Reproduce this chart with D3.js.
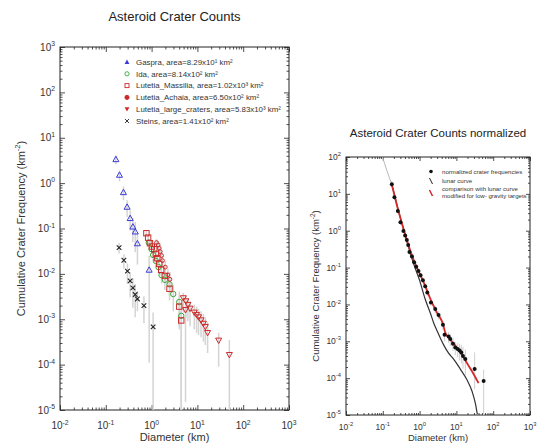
<!DOCTYPE html>
<html>
<head>
<meta charset="utf-8">
<script src="https://cdnjs.cloudflare.com/ajax/libs/d3/7.8.5/d3.min.js"></script>
<style>
  body { margin: 0; background: #fff; }
  svg { font-family: "Liberation Sans", Arial, sans-serif; }
</style>
</head>
<body>
<div id="chart"></div>
<script>
// ---- data: [diameter km, cumulative freq, err low, err high] ----
const gaspra = [
  [0.166, 3.36, 2.6, 4.1], [0.199, 1.52, 1.1, 1.9], [0.243, 0.63, 0.42, 0.84],
  [0.292, 0.30, 0.18, 0.42], [0.34, 0.169, 0.09, 0.25], [0.39, 0.110, 0.05, 0.17],
  [0.44, 0.0855, 0.03, 0.14], [0.49, 0.047, 0.016, 0.08], [0.885, 0.0123, 1.1e-4, 0.025]
];
const ida = [
  [0.87, 0.049, 0.041, 0.057], [1.0, 0.035, 0.028, 0.042], [1.08, 0.026, 0.020, 0.032],
  [1.24, 0.0193, 0.0145, 0.024], [1.42, 0.0141, 0.010, 0.018], [1.65, 0.0094, 0.0061, 0.0127],
  [1.95, 0.0074, 0.0044, 0.0104], [2.46, 0.0059, 0.0033, 0.0085], [2.97, 0.0036, 0.0015, 0.0057],
  [4.02, 0.0024, 0.0007, 0.0041], [4.44, 0.00119, 1e-6, 0.0024]
];
const massilia = [
  [0.77, 0.0787, 0.07, 0.088], [0.84, 0.063, 0.055, 0.071], [0.92, 0.0474, 0.041, 0.054],
  [1.01, 0.040, 0.034, 0.046], [1.14, 0.035, 0.029, 0.041], [1.24, 0.0276, 0.022, 0.033],
  [1.33, 0.0222, 0.018, 0.027], [1.47, 0.0166, 0.013, 0.021], [1.62, 0.0123, 0.009, 0.016],
  [1.95, 0.0090, 0.006, 0.012], [2.46, 0.0047, 0.0026, 0.0068], [4.02, 0.0019, 0.0006, 0.0032],
  [4.44, 0.00094, 1e-6, 0.0019]
];
const achaia = [
  [1.28, 0.049, 0.04, 0.058], [1.39, 0.0435, 0.035, 0.052], [1.47, 0.0368, 0.029, 0.045],
  [1.54, 0.031, 0.024, 0.038], [1.65, 0.0253, 0.019, 0.032], [1.73, 0.0196, 0.014, 0.025],
  [1.99, 0.0141, 0.0095, 0.019], [2.27, 0.0095, 0.0057, 0.013], [2.51, 0.0076, 0.0042, 0.011]
];
const largeCraters = [
  [4.92, 0.00292, 0.0014, 0.0038], [5.6, 0.0025, 0.0011, 0.0033], [5.5, 0.0016, 1.5e-5, 0.0024],
  [6.2, 0.00208, 0.0009, 0.0029], [6.9, 0.00172, 0.0007, 0.0025], [8.55, 0.00141, 0.0006, 0.0021],
  [9.6, 0.00125, 0.0005, 0.0019], [10.6, 0.00111, 0.00045, 0.0017], [12.0, 0.00095, 0.0004, 0.0015],
  [13.5, 0.0008, 0.00032, 0.0013], [14.9, 0.00068, 0.00027, 0.0011], [16.7, 0.0005, 0.00018, 0.00085],
  [29.1, 0.00034, 9e-5, 0.0005], [49.9, 0.000164, 1e-6, 0.00035]
];
const steins = [
  [0.195, 0.038, 0.028, 0.048], [0.248, 0.020, 0.013, 0.027], [0.297, 0.0115, 0.006, 0.017],
  [0.34, 0.0070, 0.003, 0.011], [0.39, 0.0049, 0.0018, 0.008], [0.438, 0.0035, 0.0011, 0.006],
  [0.49, 0.0028, 0.0015, 0.0042], [0.68, 0.0020, 0.00082, 0.0032], [1.08, 0.00068, 1e-6, 0.0014]
];
const legendLabels = [
  "Gaspra, area=8.29x10¹ km²", "Ida, area=8.14x10² km²", "Lutetia_Massilia, area=1.02x10³ km²",
  "Lutetia_Achaia, area=6.50x10² km²", "Lutetia_large_craters, area=5.83x10³ km²",
  "Steins, area=1.41x10² km²"
];

// normalized plot
const normDots = [
  [0.176, 18.2, 15, 22], [0.207, 8.1, 6.8, 9.5], [0.256, 3.44, 2.9, 4.0], [0.302, 1.7, 1.4, 2.0],
  [0.364, 0.99, 0.85, 1.13], [0.405, 0.74, 0.63, 0.85], [0.45, 0.56, 0.48, 0.64], [0.49, 0.41, 0.35, 0.47],
  [0.53, 0.266, 0.22, 0.31], [0.62, 0.199, 0.17, 0.23], [0.71, 0.14, 0.12, 0.16], [0.81, 0.106, 0.09, 0.122],
  [0.93, 0.081, 0.069, 0.093], [1.06, 0.062, 0.053, 0.071], [1.23, 0.045, 0.038, 0.052], [1.42, 0.031, 0.026, 0.036],
  [1.62, 0.021, 0.017, 0.025], [2.03, 0.0113, 0.009, 0.0136], [2.66, 0.0075, 0.0058, 0.0092],
  [3.27, 0.0052, 0.0039, 0.0065], [4.31, 0.0028, 0.002, 0.0036], [4.77, 0.0015, 0.001, 0.002],
  [6.13, 0.00135, 0.0009, 0.0018], [6.82, 0.00115, 0.00075, 0.0016], [8.07, 0.00086, 0.00055, 0.0012],
  [9.33, 0.00068, 0.00042, 0.00095], [10.8, 0.00062, 0.00037, 0.0009], [12.2, 0.00056, 0.0003, 0.00085],
  [13.6, 0.0005, 0.00025, 0.0008], [15.1, 0.0004, 0.00018, 0.0007], [17.5, 0.00033, 0.00012, 0.0006],
  [31.3, 0.000176, 5e-5, 0.0005], [55, 0.0000834, 1e-6, 0.00017]
];
const greyCurve = [[0.098, 100], [0.128, 44], [0.15, 28], [0.176, 18]];
const lunarCurve = [
  [0.176, 18], [0.25, 4.5], [0.35, 1.3], [0.5, 0.36], [0.7, 0.12], [1.0, 0.045], [1.4, 0.0145],
  [2.0, 0.0055], [2.4, 0.0032], [3.0, 0.0019], [4.5, 0.0008], [6, 0.00049], [8.4, 0.00033],
  [12.8, 0.000176], [19.4, 0.00009], [26.6, 0.000044], [33, 0.00002], [37, 0.0000105]
];
const modifiedCurve = [
  [0.176, 18], [0.25, 4.3], [0.35, 1.3], [0.5, 0.4], [0.7, 0.155], [1.0, 0.07], [1.4, 0.033],
  [2.0, 0.0135], [3.0, 0.0058], [4.3, 0.003], [5.0, 0.0017], [6, 0.0013], [8, 0.00092],
  [12, 0.00055], [19.4, 0.000256], [28, 0.00014], [40, 0.000073]
];

const xMajors = [1e-2, 1e-1, 1, 10, 100, 1000];
const yMajorsLeft = [1e-5, 1e-4, 1e-3, 1e-2, 1e-1, 1, 10, 100, 1000];
const yMajorsRight = [1e-5, 1e-4, 1e-3, 1e-2, 1e-1, 1, 10, 100];

const W = 538, H = 446;
const svg = d3.select('#chart').append('svg').attr('width', W).attr('height', H);

function minorsOf(majors) {
  const out = [];
  majors.slice(0, -1).forEach(m => { for (let k = 2; k <= 9; k++) out.push(m * k); });
  return out;
}

function expLabel(sel, exp, size) {
  sel.append('tspan').text('10');
  sel.append('tspan').attr('dy', -size * 0.45).attr('font-size', size * 0.68).text(exp);
}

function drawFrame(x, y, yMajors, o) {
  const [x0, x1] = x.range(), [y0, y1] = y.range();
  const g = svg.append('g').attr('class', 'frame');
  const axes = [
    [d3.axisBottom(x), `translate(0,${y0})`, xMajors],
    [d3.axisTop(x), `translate(0,${y1})`, xMajors],
    [d3.axisLeft(y), `translate(${x0},0)`, yMajors],
    [d3.axisRight(y), `translate(${x1},0)`, yMajors]
  ];
  axes.forEach(([ax, tr, majors]) => {
    g.append('g').attr('transform', tr)
      .call(ax.tickValues(majors).tickSize(-o.major).tickFormat(''))
      .call(a => a.select('.domain').remove());
    g.append('g').attr('transform', tr)
      .call(ax.tickValues(minorsOf(majors)).tickSize(-o.minor).tickFormat(''))
      .call(a => a.select('.domain').remove());
  });
  g.selectAll('.tick line').attr('stroke', '#222').attr('stroke-width', 0.8);
  g.append('rect').attr('x', x0).attr('y', y1).attr('width', x1 - x0).attr('height', y0 - y1)
    .attr('fill', 'none').attr('stroke', '#222').attr('stroke-width', 1);

  g.selectAll('.xl').data(xMajors).join('text')
    .attr('x', d => x(d)).attr('y', y0 + o.xlOff).attr('text-anchor', 'middle')
    .attr('font-size', o.tick).attr('fill', '#333')
    .each(function (d) { expLabel(d3.select(this), String(Math.round(Math.log10(d))), o.tick); });
  g.selectAll('.yl').data(yMajors).join('text')
    .attr('x', x0 - o.ylOff).attr('y', d => y(d) + o.tick * 0.35).attr('text-anchor', 'end')
    .attr('font-size', o.tick).attr('fill', '#333')
    .each(function (d) { expLabel(d3.select(this), String(Math.round(Math.log10(d))), o.tick); });

  svg.append('text').attr('x', (x0 + x1) / 2).attr('y', o.titleY).attr('text-anchor', 'middle')
    .attr('font-size', o.title).attr('fill', '#222').text(o.titleText);
  svg.append('text').attr('x', (x0 + x1) / 2).attr('y', o.xLabelY).attr('text-anchor', 'middle')
    .attr('font-size', o.label).attr('fill', '#333').text('Diameter (km)');
  const yl = svg.append('text')
    .attr('transform', `translate(${o.yLabelX},${(y0 + y1) / 2}) rotate(-90)`)
    .attr('text-anchor', 'middle').attr('font-size', o.label).attr('fill', '#333');
  yl.append('tspan').text('Cumulative Crater Frequency (km');
  yl.append('tspan').attr('dy', -o.label * 0.45).attr('font-size', o.label * 0.68).text('-2');
  yl.append('tspan').attr('dy', o.label * 0.45).text(')');
}

// ---------------- left panel ----------------
const xL = d3.scaleLog().domain([1e-2, 1e3]).range([60, 289]);
const yL = d3.scaleLog().domain([1e-5, 1e3]).range([410, 47]);
drawFrame(xL, yL, yMajorsLeft, {
  major: 5, minor: 2.5, tick: 10, xlOff: 19, ylOff: 5,
  title: 13, titleY: 21, titleText: 'Asteroid Crater Counts',
  label: 11, xLabelY: 441, yLabelX: 25
});

const series = [
  { data: gaspra, color: '#3b3bd6', shape: 'tri' },
  { data: ida, color: '#3aa83a', shape: 'circle' },
  { data: massilia, color: '#cc2a2a', shape: 'square' },
  { data: achaia, color: '#cc2a2a', shape: 'dot' },
  { data: largeCraters, color: '#cc2a2a', shape: 'down' },
  { data: steins, color: '#222', shape: 'cross' }
];

function marker(g, shape, color, cx, cy) {
  const s = 3;
  if (shape === 'tri') {
    g.append('path').attr('d', `M${cx},${cy - s}L${cx + s},${cy + s * 0.8}L${cx - s},${cy + s * 0.8}Z`)
      .attr('fill', 'none').attr('stroke', color).attr('stroke-width', 1);
  } else if (shape === 'down') {
    g.append('path').attr('d', `M${cx},${cy + s}L${cx + s},${cy - s * 0.8}L${cx - s},${cy - s * 0.8}Z`)
      .attr('fill', 'none').attr('stroke', color).attr('stroke-width', 1);
  } else if (shape === 'circle') {
    g.append('circle').attr('cx', cx).attr('cy', cy).attr('r', 2.7)
      .attr('fill', 'none').attr('stroke', color).attr('stroke-width', 1);
  } else if (shape === 'square') {
    g.append('rect').attr('x', cx - 2.7).attr('y', cy - 2.7).attr('width', 5.4).attr('height', 5.4)
      .attr('fill', 'none').attr('stroke', color).attr('stroke-width', 1);
  } else if (shape === 'dot') {
    g.append('circle').attr('cx', cx).attr('cy', cy).attr('r', 1.9)
      .attr('fill', 'none').attr('stroke', color).attr('stroke-width', 1);
  } else if (shape === 'cross') {
    g.append('path').attr('d', `M${cx - 2.3},${cy - 2.3}L${cx + 2.3},${cy + 2.3}M${cx - 2.3},${cy + 2.3}L${cx + 2.3},${cy - 2.3}`)
      .attr('stroke', color).attr('stroke-width', 1.1);
  }
}

svg.append('clipPath').attr('id', 'clipL').append('rect')
  .attr('x', 60).attr('y', 47).attr('width', 229).attr('height', 363);
const bars = svg.append('g').attr('clip-path', 'url(#clipL)');
series.forEach(s => {
  bars.selectAll(null).data(s.data).join('line')
    .attr('x1', d => xL(d[0])).attr('x2', d => xL(d[0]))
    .attr('y1', d => yL(Math.max(d[2], 1e-6))).attr('y2', d => yL(d[3]))
    .attr('stroke', '#d4d4d4').attr('stroke-width', 1.5);
});
const marks = svg.append('g');
series.forEach(s => {
  s.data.forEach(d => marker(marks, s.shape, s.color, xL(d[0]), yL(d[1])));
});

// legend
const leg = svg.append('g');
series.forEach((s, i) => {
  const ly = 62 + i * 11.8;
  const shape = s.shape;
  if (shape === 'tri' || shape === 'down') {
    const c = s.color, cx = 127, cy = ly, r = 2.4;
    const p = shape === 'tri'
      ? `M${cx},${cy - r}L${cx + r},${cy + r * 0.8}L${cx - r},${cy + r * 0.8}Z`
      : `M${cx},${cy + r}L${cx + r},${cy - r * 0.8}L${cx - r},${cy - r * 0.8}Z`;
    leg.append('path').attr('d', p).attr('fill', c);
  } else if (shape === 'circle' || shape === 'dot') {
    leg.append('circle').attr('cx', 127).attr('cy', ly).attr('r', 2.1)
      .attr('fill', shape === 'dot' ? s.color : 'none').attr('stroke', s.color).attr('stroke-width', 0.9);
  } else if (shape === 'square') {
    leg.append('rect').attr('x', 125).attr('y', ly - 2).attr('width', 4).attr('height', 4)
      .attr('fill', 'none').attr('stroke', s.color).attr('stroke-width', 0.9);
  } else {
    leg.append('path').attr('d', `M125,${ly - 2}L129,${ly + 2}M125,${ly + 2}L129,${ly - 2}`)
      .attr('stroke', s.color).attr('stroke-width', 0.9);
  }
  leg.append('text').attr('x', 136).attr('y', ly + 2.7).attr('font-size', 7.9).attr('fill', '#333')
    .text(legendLabels[i]);
});

// ---------------- right panel ----------------
const xR = d3.scaleLog().domain([1e-2, 1e3]).range([346, 530]);
const yR = d3.scaleLog().domain([1e-5, 1e2]).range([415, 157]);
drawFrame(xR, yR, yMajorsRight, {
  major: 4, minor: 2, tick: 8.5, xlOff: 15, ylOff: 5,
  title: 11.5, titleY: 137, titleText: 'Asteroid Crater Counts normalized',
  label: 9.5, xLabelY: 441, yLabelX: 319
});

svg.append('clipPath').attr('id', 'clipR').append('rect')
  .attr('x', 346).attr('y', 157).attr('width', 184).attr('height', 258);
const pr = svg.append('g').attr('clip-path', 'url(#clipR)');
const lineR = d3.line().x(d => xR(d[0])).y(d => yR(d[1])).curve(d3.curveMonotoneX);

pr.selectAll('.eb').data(normDots).join('line')
  .attr('x1', d => xR(d[0])).attr('x2', d => xR(d[0]))
  .attr('y1', d => yR(Math.max(d[2], 1e-6))).attr('y2', d => yR(d[3]))
  .attr('stroke', '#cfcfcf').attr('stroke-width', 1);
pr.append('path').datum(greyCurve).attr('d', lineR)
  .attr('fill', 'none').attr('stroke', '#b8b8b8').attr('stroke-width', 1);
pr.append('path').datum(lunarCurve).attr('d', lineR)
  .attr('fill', 'none').attr('stroke', '#333').attr('stroke-width', 1.2);
pr.append('path').datum(modifiedCurve).attr('d', lineR)
  .attr('fill', 'none').attr('stroke', '#d42a2a').attr('stroke-width', 1.8);
pr.selectAll('.dot').data(normDots).join('circle')
  .attr('cx', d => xR(d[0])).attr('cy', d => yR(d[1])).attr('r', 2)
  .attr('fill', '#111');

// right legend
const lg = svg.append('g').attr('font-size', 6.1).attr('fill', '#333');
lg.append('circle').attr('cx', 431).attr('cy', 171.5).attr('r', 1.8).attr('fill', '#111');
lg.append('text').attr('x', 442).attr('y', 173.5).text('normalized crater frequencies');
lg.append('line').attr('x1', 429.5).attr('y1', 178).attr('x2', 432.5).attr('y2', 184)
  .attr('stroke', '#222').attr('stroke-width', 1);
lg.append('text').attr('x', 442).attr('y', 183).text('lunar curve');
lg.append('line').attr('x1', 429.5).attr('y1', 190).attr('x2', 432.5).attr('y2', 196)
  .attr('stroke', '#d42a2a').attr('stroke-width', 1.5);
lg.append('text').attr('x', 442).attr('y', 191).text('comparison with lunar curve');
lg.append('text').attr('x', 442).attr('y', 198).text('modified for low- gravity targets');
</script>
</body>
</html>
